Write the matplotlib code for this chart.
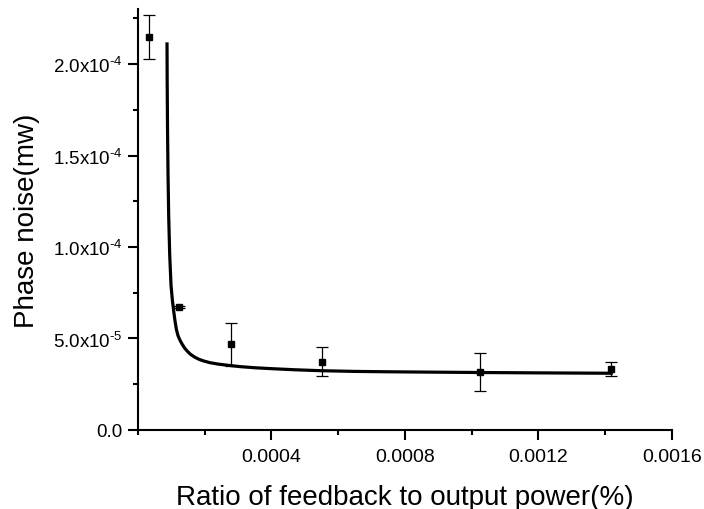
import matplotlib
matplotlib.use("Agg")
import matplotlib.pyplot as plt
from matplotlib.ticker import MultipleLocator

plt.rcParams["font.family"] = ["Liberation Sans", "DejaVu Sans"]
plt.rcParams["mathtext.fontset"] = "custom"
plt.rcParams["mathtext.rm"] = "Liberation Sans"
plt.rcParams["mathtext.it"] = "Liberation Sans"

# measured points with error bars
ratio = [3.3e-5, 1.24e-4, 2.78e-4, 5.52e-4, 1.025e-3, 1.418e-3]
noise = [2.147e-4, 6.72e-5, 4.69e-5, 3.74e-5, 3.18e-5, 3.34e-5]
noise_err = [1.2e-5, 5e-7, 1.17e-5, 8e-6, 1.05e-5, 4e-6]

# fitted curve
fit_x = [8.7e-5, 8.75e-5, 8.85e-5, 9.0e-5, 9.2e-5, 9.5e-5, 9.9e-5, 1.03e-4,
         1.07e-4, 1.11e-4, 1.15e-4, 1.20e-4, 1.26e-4, 1.32e-4, 1.40e-4,
         1.48e-4, 1.57e-4, 1.70e-4, 1.83e-4, 1.97e-4, 2.15e-4, 2.40e-4,
         2.67e-4, 3.07e-4, 3.5e-4, 4.0e-4, 4.7e-4, 5.46e-4, 6.5e-4, 7.5e-4,
         8.8e-4, 1.025e-3, 1.2e-3, 1.418e-3]
fit_y = [2.11e-4, 1.90e-4, 1.65e-4, 1.40e-4, 1.17e-4, 9.6e-5, 7.9e-5, 7.1e-5,
         6.5e-5, 5.95e-5, 5.5e-5, 5.15e-5, 4.9e-5, 4.7e-5, 4.47e-5,
         4.3e-5, 4.14e-5, 3.98e-5, 3.86e-5, 3.77e-5, 3.68e-5, 3.6e-5,
         3.54e-5, 3.46e-5, 3.4e-5, 3.35e-5, 3.29e-5, 3.24e-5, 3.2e-5, 3.18e-5,
         3.16e-5, 3.14e-5, 3.12e-5, 3.10e-5]

x_ticks = [0.0004, 0.0008, 0.0012, 0.0016]
x_labels = ["0.0004", "0.0008", "0.0012", "0.0016"]
y_ticks = [0.0, 5e-5, 1e-4, 1.5e-4, 2e-4]
y_labels = ["0.0", "5.0x10$^{\u20105}$", "1.0x10$^{\u20104}$",
            "1.5x10$^{\u20104}$", "2.0x10$^{\u20104}$"]

fig = plt.figure(figsize=(7.04, 5.10), dpi=100)
ax = fig.add_axes([0.196, 0.155, 0.7585, 0.825])

ax.plot(fit_x, fit_y, color="black", linewidth=2.3, solid_joinstyle="round")
ax.errorbar(ratio, noise, yerr=noise_err, fmt="s", color="black", markersize=4,
            elinewidth=0.9, capsize=4, capthick=0.9)

ax.set_xlim(0, 0.0016)
ax.set_ylim(0, 2.3e-4)
ax.set_xticks(x_ticks)
ax.set_xticklabels(x_labels)
ax.set_yticks(y_ticks)
ax.set_yticklabels(y_labels)
ax.xaxis.set_minor_locator(MultipleLocator(0.0002))
ax.yaxis.set_minor_locator(MultipleLocator(2.5e-5))

for side in ("top", "right"):
    ax.spines[side].set_visible(False)
for side in ("left", "bottom"):
    ax.spines[side].set_linewidth(1.5)

ax.tick_params(which="major", direction="out", length=7, width=1.5)
ax.tick_params(which="minor", direction="out", length=3.5, width=1.5)
ax.tick_params(axis="x", labelsize=14, pad=6)
ax.tick_params(axis="y", labelsize=13.5, pad=4)

ax.set_xlabel("Ratio of feedback to output power(%)", fontsize=20, labelpad=14)
ax.set_ylabel("Phase noise(mw)", fontsize=20, labelpad=9)

fig.savefig("out.png", dpi=100)
